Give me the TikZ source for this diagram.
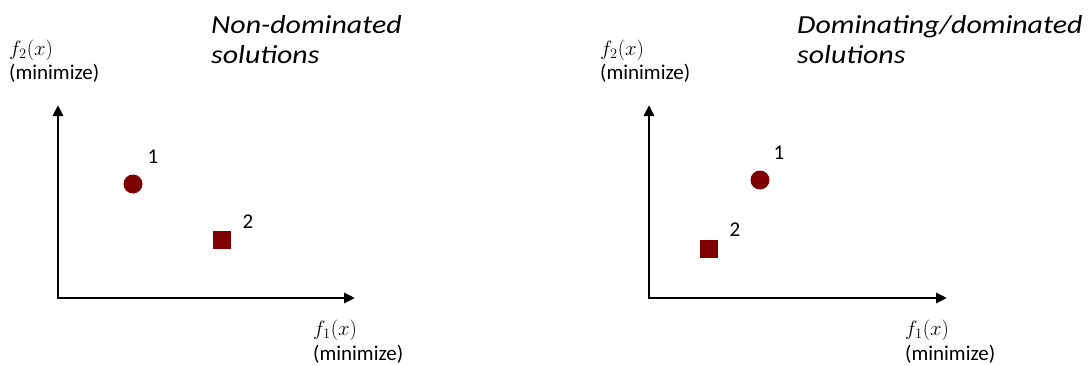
\documentclass[tikz,border=0pt]{standalone}
\usepackage{fontspec}
\setmainfont{Carlito}
\newfontfamily\titlefont{Carlito}
\usetikzlibrary{arrows.meta}
\definecolor{darkred}{HTML}{7F0000}
\begin{document}
\begin{tikzpicture}[x=1pt,y=-1pt,
  axis/.style={line width=2.8pt,-{Triangle[length=11pt,width=10pt]}},
  lbl/.style={font=\fontsize{21}{25}\selectfont,inner sep=0pt},
  ttl/.style={font=\titlefont\itshape\fontsize{26}{30}\selectfont,inner sep=0pt,anchor=north west,align=left},
  dot/.style={circle,fill=darkred,minimum size=19pt,inner sep=0pt},
  sq/.style={rectangle,fill=darkred,minimum size=18pt,inner sep=0pt}]
\useasboundingbox (0,0) rectangle (1089,364);
% left panel
\coordinate (o1) at (58,298);
\coordinate (y1) at (58,105);
\coordinate (x1) at (355,298);
\draw[axis] (o1) -- (y1);
\draw[axis] ([xshift=-1.4pt]o1) -- (x1);
\node[ttl] (t1) at (211,15) {\scalebox{1.15}[1]{Non-dominated}\\\scalebox{1.15}[1]{solutions}};
\node[lbl,anchor=west] (f2a) at (9,50) {$f_2(x)$};
\node[lbl,anchor=west] (m2a) at (9,73) {(minimize)};
\node[lbl,anchor=west] (f1a) at (313,330) {$f_1(x)$};
\node[lbl,anchor=west] (m1a) at (313,354) {(minimize)};
\node[dot] (c1) at (133,184) {};
\node[lbl] (n1a) at (153,157) {1};
\node[sq] (s1) at (222,240) {};
\node[lbl] (n2a) at (248,222) {2};
% right panel
\coordinate (o2) at (649,298);
\coordinate (y2) at (649,105);
\coordinate (x2) at (947,298);
\draw[axis] (o2) -- (y2);
\draw[axis] ([xshift=-1.4pt]o2) -- (x2);
\node[ttl] (t2) at (797,15) {\scalebox{1.15}[1]{Dominating/dominated}\\\scalebox{1.15}[1]{solutions}};
\node[lbl,anchor=west] (f2b) at (600,50) {$f_2(x)$};
\node[lbl,anchor=west] (m2b) at (600,73) {(minimize)};
\node[lbl,anchor=west] (f1b) at (905,330) {$f_1(x)$};
\node[lbl,anchor=west] (m1b) at (905,354) {(minimize)};
\node[dot] (c2) at (760,180) {};
\node[lbl] (n1b) at (779,153) {1};
\node[sq] (s2) at (709,249) {};
\node[lbl] (n2b) at (735,230) {2};
\end{tikzpicture}
\end{document}
